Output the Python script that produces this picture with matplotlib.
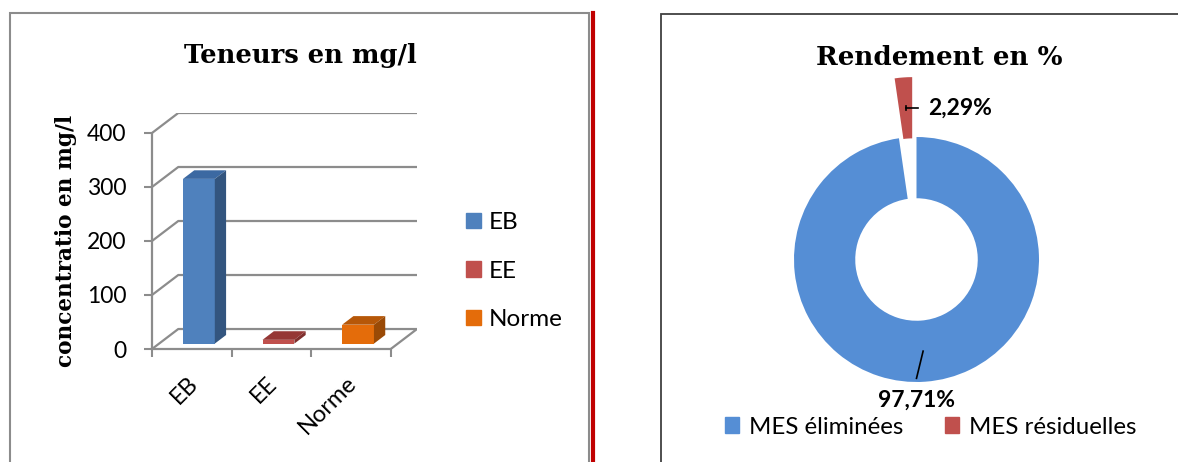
import numpy as np
import matplotlib
matplotlib.use("Agg")
import matplotlib.pyplot as plt
from matplotlib.patches import Rectangle, Polygon, Patch
from matplotlib.lines import Line2D
from matplotlib.transforms import ScaledTranslation

plt.rcParams['font.family'] = ['Lato', 'DejaVu Sans']

# data
categories = ['EB', 'EE', 'Norme']
teneurs = [305, 7, 35]
y_ticks = [0, 100, 200, 300, 400]
parts = ['MES éliminées', 'MES résiduelles']
rendement = [97.71, 2.29]

bar_front = ['#4F81BD', '#C0504D', '#E46C0A']
bar_top = ['#3C69A2', '#953735', '#B65708']
bar_side = ['#33557F', '#7F2F2D', '#9A4A06']
pie_colors = ['#558ED5', '#C0504D']

W, H = 1178, 462
fig = plt.figure(figsize=(W / 100, H / 100), dpi=100)


def fx(x):
    return x / W


def fy(y):
    return 1 - y / H


# panel frames
fig.add_artist(Rectangle((fx(10), fy(475)), fx(579), 462 / H, transform=fig.transFigure,
                         fill=False, edgecolor='#8C8C8C', lw=1.5))
fig.add_artist(Line2D([fx(593), fx(593)], [fy(13), fy(470)], transform=fig.transFigure,
                      color='#C00000', lw=3))
fig.add_artist(Rectangle((fx(661), fy(475)), fx(540), 461 / H, transform=fig.transFigure,
                         fill=False, edgecolor='#404040', lw=1.3))

# ---- left: pseudo 3D bars ----
grid_c = '#8C8C8C'
ddx, ddy = 0.33, 37          # depth of the floor (category units, value units)
f0, f1 = 0.27, 0.70          # bars sit between these depth fractions
bw = 0.40
n = len(categories)

ax = fig.add_axes([fx(152), fy(349), fx(417 - 152), (349 - 113) / H])
ax.set_xlim(-0.5, n - 0.5 + ddx)
ax.set_ylim(0, y_ticks[-1] + ddy)
ax.patch.set_alpha(0)

for v in y_ticks:
    xs = [-0.5, -0.5 + ddx, n - 0.5 + ddx]
    ys = [v, v + ddy, v + ddy]
    if v == 0:
        xs = xs + [n - 0.5]
        ys = ys + [0]
    ax.plot(xs, ys, color=grid_c, lw=1.6, zorder=1, solid_capstyle='butt')

for i, v in enumerate(teneurs):
    x0 = i - bw / 2 + f0 * ddx
    x1 = x0 + bw
    y0 = f0 * ddy
    sx = (f1 - f0) * ddx
    sy = (f1 - f0) * ddy
    ax.add_patch(Polygon([(x0, y0), (x1, y0), (x1, y0 + v), (x0, y0 + v)],
                         closed=True, facecolor=bar_front[i], edgecolor='none', zorder=3))
    ax.add_patch(Polygon([(x0, y0 + v), (x1, y0 + v), (x1 + sx, y0 + v + sy), (x0 + sx, y0 + v + sy)],
                         closed=True, facecolor=bar_top[i], edgecolor='none', zorder=3))
    ax.add_patch(Polygon([(x1, y0), (x1 + sx, y0 + sy), (x1 + sx, y0 + v + sy), (x1, y0 + v)],
                         closed=True, facecolor=bar_side[i], edgecolor='none', zorder=3))

for s in ['top', 'right']:
    ax.spines[s].set_visible(False)
ax.spines['left'].set_bounds(0, y_ticks[-1])
ax.spines['bottom'].set_bounds(-0.5, n - 0.5)
for s in ['left', 'bottom']:
    ax.spines[s].set_color(grid_c)
    ax.spines[s].set_linewidth(1.6)

ax.set_yticks(y_ticks)
ax.set_yticklabels([str(t) for t in y_ticks], fontsize=16.5)
ax.tick_params(axis='y', length=5.5, width=1.5, color=grid_c, pad=13)

ax.set_xticks(range(n))
ax.set_xticklabels(categories, fontsize=17, rotation=45, ha='right', rotation_mode='anchor')
ax.set_xticks(np.arange(n + 1) - 0.5, minor=True)
ax.tick_params(axis='x', which='major', length=0, pad=17)
ax.tick_params(axis='x', which='minor', length=5.5, width=1.5, color=grid_c)
shift = ScaledTranslation(-5 / 100, 0, fig.dpi_scale_trans)
for lab in ax.get_xticklabels():
    lab.set_transform(lab.get_transform() + shift)

fig.text(fx(300), fy(63), 'Teneurs en mg/l', family='DejaVu Serif', weight='bold',
         fontsize=18.6, ha='center', va='baseline')
fig.text(fx(66), fy(241), 'concentratio en mg/l', family='DejaVu Serif', weight='bold',
         fontsize=15.6, rotation=90, ha='center', va='center')

fig.legend([Patch(color=c) for c in bar_front], categories, loc='center left',
           bbox_to_anchor=(fx(466), fy(271)), frameon=False, fontsize=17.5,
           handlelength=0.62, handleheight=0.62, handletextpad=0.3,
           labelspacing=1.13, borderpad=0, borderaxespad=0)

# ---- right: donut ----
R = 122.5
pax = fig.add_axes([fx(916.5 - 1.6 * R), fy(259.5 + 1.6 * R), fx(3.2 * R), 3.2 * R / H])
wedges, _ = pax.pie(rendement, colors=pie_colors, startangle=90, counterclock=False,
                    explode=[0, 0.49], radius=1, wedgeprops=dict(width=0.5, linewidth=0))
pax.set_xlim(-1.6, 1.6)
pax.set_ylim(-1.6, 1.6)
pax.axis('off')

labels = [f"{v:.2f}".replace('.', ',') + '%' for v in rendement]
for i, w in enumerate(wedges):
    mid = np.deg2rad((w.theta1 + w.theta2) / 2)
    cx, cy = w.center
    sx, sy = cx + 0.75 * np.cos(mid), cy + 0.75 * np.sin(mid)
    if sy < 0:
        lx, ly = cx, cy - 1.15
        pax.plot([sx, lx], [sy, ly + 0.18], color='black', lw=1.2)
        pax.text(lx, ly, labels[i], fontsize=16.5, weight='bold', ha='center', va='center')
    else:
        pax.plot([sx, sx + 0.1], [sy, sy], color='black', lw=1.2)
        pax.plot([sx, sx], [sy - 0.02, sy + 0.02], color='black', lw=1.2)
        pax.text(sx + 0.18, sy, labels[i], fontsize=16.5, weight='bold', ha='left', va='center')

fig.text(fx(939), fy(65), 'Rendement en %', family='DejaVu Serif', weight='bold',
         fontsize=18.8, ha='center', va='baseline')

fig.legend([Patch(color=c) for c in pie_colors], parts, loc='center left', ncol=2,
           bbox_to_anchor=(fx(725), fy(427)), frameon=False, fontsize=17.3,
           handlelength=0.6, handleheight=0.6, handletextpad=0.38, columnspacing=1.75,
           borderpad=0, borderaxespad=0)

fig.savefig('out.png', dpi=100)
